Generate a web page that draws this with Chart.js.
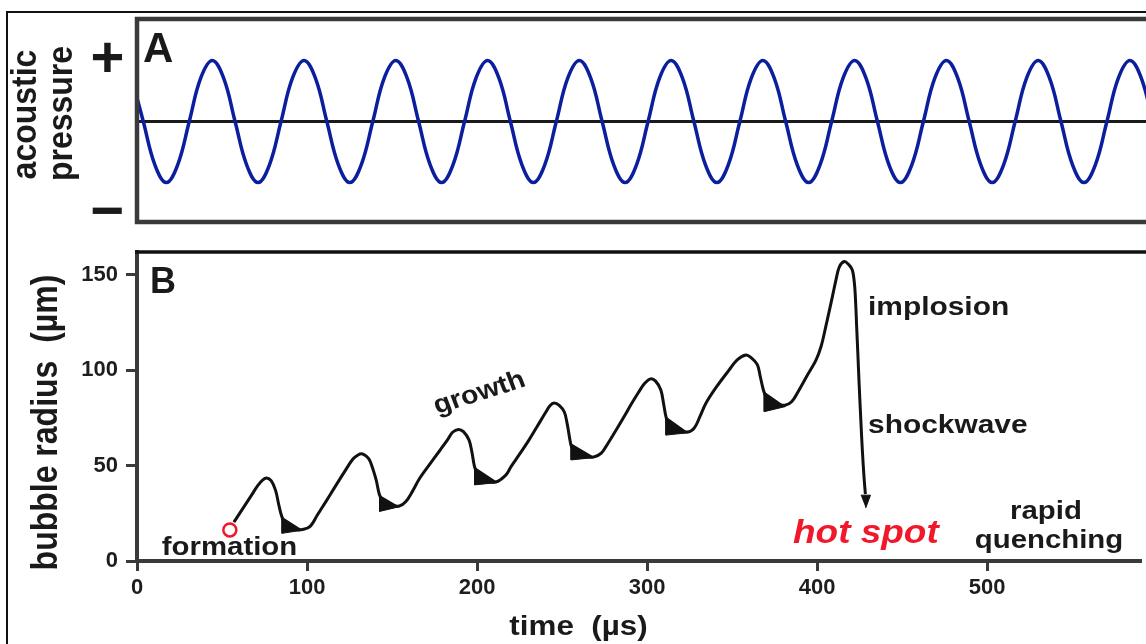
<!DOCTYPE html>
<html>
<head>
<meta charset="utf-8">
<script src="https://cdn.jsdelivr.net/npm/chart.js@4.4.0/dist/chart.umd.min.js"></script>
<style>
  html, body { margin: 0; padding: 0; background: #fff; overflow: hidden; }
  #wrap { position: relative; width: 1146px; height: 644px; overflow: hidden; }
  #outer { position: absolute; left: 6px; top: 11px; width: 1200px; height: 700px;
           border-left: 2px solid #111; border-top: 2px solid #111; }
  canvas { position: absolute; left: 0; top: 0; }
</style>
</head>
<body>
<div id="wrap">
  <div id="outer"></div>
  <canvas id="radiusChart" width="1150" height="644"></canvas>
  <canvas id="pressureChart" width="1150" height="644"></canvas>
</div>
<script>
// panel A: acoustic pressure (relative units)
const pressureTime = [
  -3.0, 3.7, 10.5,
  17.2, 23.9, 30.7, 37.4, 44.2, 50.9, 57.6, 64.4,
  71.1, 77.8, 84.6, 91.3, 98.1, 104.8, 111.5, 118.3,
  125.0, 131.7, 138.5, 145.2, 152.0, 158.7, 165.4, 172.2,
  178.9, 185.6, 192.4, 199.1, 205.9, 212.6, 219.3, 226.1,
  232.8, 239.5, 246.3, 253.0, 259.8, 266.5, 273.2, 280.0,
  286.7, 293.4, 300.2, 306.9, 313.7, 320.4, 327.1, 333.9,
  340.6, 347.3, 354.1, 360.8, 367.6, 374.3, 381.0, 387.8,
  394.5, 401.2, 408.0, 414.7, 421.5, 428.2, 434.9, 441.7,
  448.4, 455.1, 461.9, 468.6, 475.4, 482.1, 488.8, 495.6,
  502.3, 509.0, 515.8, 522.5, 529.3, 536.0, 542.7, 549.5,
  556.2, 562.9, 569.7, 576.4, 583.2, 589.9, 596.6, 603.4
];
const pressureValue = [
  0.71, 0, -0.71,
  -1, -0.71, 0, 0.71, 1, 0.71, 0, -0.71,
  -1, -0.71, 0, 0.71, 1, 0.71, 0, -0.71,
  -1, -0.71, 0, 0.71, 1, 0.71, 0, -0.71,
  -1, -0.71, 0, 0.71, 1, 0.71, 0, -0.71,
  -1, -0.71, 0, 0.71, 1, 0.71, 0, -0.71,
  -1, -0.71, 0, 0.71, 1, 0.71, 0, -0.71,
  -1, -0.71, 0, 0.71, 1, 0.71, 0, -0.71,
  -1, -0.71, 0, 0.71, 1, 0.71, 0, -0.71,
  -1, -0.71, 0, 0.71, 1, 0.71, 0, -0.71,
  -1, -0.71, 0, 0.71, 1, 0.71, 0, -0.71,
  -1, -0.71, 0, 0.71, 1, 0.71, 0, -0.71
];
const zeroTime = [0, 600];
const zeroValue = [0, 0];

// panel B: bubble radius (µm) against time (µs)
const radiusTime = [
  57, 62, 67, 71, 74, 76.2, 79, 81.5, 83.5, 85.3, 88, 93, 98, 102,
  106, 111, 116, 122, 127, 130, 132.2, 135, 137, 139, 140.8, 142.5, 144.5, 148, 154.3,
  158, 162, 166, 172, 178, 183, 185.6, 189, 192, 195.3, 197, 198.5, 200.5, 204, 211,
  216.9, 220, 225, 230.5, 235, 240.4, 243, 245.3, 248.5, 251.4, 253, 254.3, 255.5, 257.5, 261, 268.6,
  273, 275.6, 281, 286, 291, 295, 298.5, 302, 305, 308.1, 309.8, 311.1, 313, 317, 324.8,
  328, 331, 334.6, 341, 348.3, 353, 358.1, 361, 364.9, 366.5, 367.9, 369, 371, 375, 381,
  385, 389.4, 394, 399.4, 402.5, 405.1, 407, 409, 411, 413, 415.9, 418.5, 420.7,
  422, 422.7, 423.3, 424, 424.7, 425.6, 426.6, 427.6, 428.4
];
const radiusValue = [
  20.4, 27.2, 34, 39.5, 42.5, 43.5, 42, 37, 29, 23, 18.5, 16.5, 16.6, 18.3,
  24, 31, 38.2, 46.7, 53.5, 55.6, 56.2, 54.8, 52.5, 47.5, 42, 35, 31.5, 29.5, 28.8,
  31, 36.5, 43, 50.5, 57.8, 64, 67.5, 69, 67.8, 63.4, 57, 49.5, 45, 42.3, 41.4,
  45, 49.5, 56, 63.4, 70, 78, 81.5, 82.8, 81.5, 78, 72, 65.2, 60, 57, 55.3, 54.5,
  56.5, 59.7, 67.5, 75, 82.7, 88.5, 93, 95.5, 94.3, 89.7, 82, 75.7, 71, 68.3, 67.8,
  70, 75.5, 82.7, 91.5, 100.2, 105.5, 108, 106.7, 102.8, 97, 91.4, 88, 84.5, 82.3, 81.7,
  83.5, 89.7, 97, 105.4, 113, 122.9, 130.5, 138.6, 147, 154, 157, 155.5, 152.6,
  145, 135, 122, 108, 93.2, 76, 58.2, 44, 35
];

// ringing after each collapse (dark wedges)
const ringTime = [
  [85.3, 85.3, 97.5],
  [142.7, 142.7, 154.5],
  [198.5, 198.5, 212.5],
  [255.3, 255.3, 269.5],
  [311.1, 311.1, 324.5],
  [368.9, 368.9, 381.5]
];
const ringRadius = [
  [23.2, 14.5, 16.2],
  [34.6, 26.0, 28.5],
  [49.4, 39.9, 41.2],
  [61.7, 53.0, 54.3],
  [75.7, 66.0, 67.3],
  [88.8, 78.3, 81.0]
];

const arrowTime = [425.7, 431.4, 428.6];
const arrowRadius = [34.5, 34.5, 27.8];
const formationTime = [54.6];
const formationRadius = [16.3];

const xTickValues = [0, 100, 200, 300, 400, 500];
const yTickValues = [0, 50, 100, 150];

const INK = '#1a1a1a';
const AXIS = '#3a3a3a';
const BLUE = '#0b1f9e';
const RED = '#f0182a';
const FONT = '"Liberation Sans", Arial, Helvetica, sans-serif';

Chart.defaults.font.family = FONT;

function points(xs, ys) {
  return xs.map((x, i) => ({ x: x, y: ys[i] }));
}

function drawLabel(ctx, text, x, y, o) {
  ctx.save();
  ctx.translate(x, y);
  ctx.scale(o.sx || 1, 1);
  if (o.angle) ctx.rotate(o.angle);
  ctx.font = o.font;
  ctx.fillStyle = o.color || INK;
  ctx.textAlign = o.align || 'left';
  ctx.textBaseline = 'alphabetic';
  ctx.fillText(text, 0, 0);
  ctx.restore();
}

const panelA = {
  id: 'panelA',
  afterDraw(chart) {
    const ctx = chart.ctx;
    const a = chart.chartArea;
    ctx.save();
    ctx.strokeStyle = AXIS;
    ctx.lineWidth = 4.5;
    ctx.strokeRect(a.left, a.top, a.right - a.left + 10, a.bottom - a.top);
    ctx.restore();

    drawLabel(ctx, 'A', 143, 62, { font: 'bold 42px ' + FONT });
    drawLabel(ctx, '+', 107.5, 76.5, { font: 'bold 58px ' + FONT, align: 'center' });
    drawLabel(ctx, '\u2212', 107.5, 229.5, { font: 'bold 58px ' + FONT, align: 'center' });
    drawLabel(ctx, 'acoustic', 36, 114.5, { font: 'bold 32px ' + FONT, align: 'center', angle: -Math.PI / 2, sx: 1.08 });
    drawLabel(ctx, 'pressure', 71.5, 113.5, { font: 'bold 32px ' + FONT, align: 'center', angle: -Math.PI / 2, sx: 1.08 });
  }
};

const panelB = {
  id: 'panelB',
  afterDraw(chart) {
    const ctx = chart.ctx;
    const a = chart.chartArea;
    ctx.save();
    ctx.strokeStyle = '#111';
    ctx.lineWidth = 3.5;
    ctx.beginPath();
    ctx.moveTo(a.left - 2, a.top);
    ctx.lineTo(a.right + 10, a.top);
    ctx.stroke();
    ctx.restore();

    drawLabel(ctx, 'B', 150, 293, { font: 'bold 36px ' + FONT });
    drawLabel(ctx, 'bubble radius  (\u00b5m)', 57, 422.5, { font: 'bold 32px ' + FONT, align: 'center', angle: -Math.PI / 2, sx: 1.15 });
    drawLabel(ctx, 'time  (\u00b5s)', 578.5, 635, { font: 'bold 28px ' + FONT, align: 'center', sx: 1.12 });
    drawLabel(ctx, 'formation', 229.5, 555, { font: 'bold 26px ' + FONT, align: 'center', sx: 1.13 });
    drawLabel(ctx, 'growth', 482, 400, { font: 'bold 26px ' + FONT, align: 'center', angle: -19 * Math.PI / 180, sx: 1.1 });
    drawLabel(ctx, 'implosion', 868, 315, { font: 'bold 26px ' + FONT, sx: 1.15 });
    drawLabel(ctx, 'shockwave', 868, 433, { font: 'bold 26px ' + FONT, sx: 1.15 });
    drawLabel(ctx, 'hot spot', 793, 543, { font: 'italic bold 33px ' + FONT, sx: 1.12, color: RED });
    drawLabel(ctx, 'rapid', 1046, 519, { font: 'bold 26px ' + FONT, align: 'center', sx: 1.13 });
    drawLabel(ctx, 'quenching', 1049, 548, { font: 'bold 26px ' + FONT, align: 'center', sx: 1.13 });
  }
};

new Chart(document.getElementById('pressureChart'), {
  type: 'line',
  data: {
    datasets: [
      { data: points(pressureTime, pressureValue), borderColor: BLUE, borderWidth: 3.5, tension: 0.4, pointRadius: 0 },
      { data: points(zeroTime, zeroValue), borderColor: INK, borderWidth: 3, pointRadius: 0 }
    ]
  },
  options: {
    responsive: false,
    animation: false,
    devicePixelRatio: 1,
    layout: { padding: { left: 137, top: 19, right: 0, bottom: 422 } },
    plugins: { legend: { display: false }, tooltip: { enabled: false } },
    scales: {
      x: { type: 'linear', display: false, min: 0, max: 595 },
      y: { display: false, min: -1.648, max: 1.68 }
    }
  },
  plugins: [panelA]
});

const ringSets = ringTime.map((ts, i) => ({
  data: points(ts, ringRadius[i]),
  borderColor: '#111',
  backgroundColor: '#111',
  borderWidth: 1,
  fill: 'shape',
  pointRadius: 0,
  tension: 0
}));

const tickFont = { size: 22, weight: 'bold' };

new Chart(document.getElementById('radiusChart'), {
  type: 'line',
  data: {
    datasets: [
      { data: points(formationTime, formationRadius), showLine: false, pointRadius: 6.5,
        pointBorderWidth: 2.5, pointBorderColor: RED, pointBackgroundColor: '#fff' },
      { data: points(arrowTime, arrowRadius), borderColor: '#111', backgroundColor: '#111',
        borderWidth: 1, fill: 'shape', pointRadius: 0, tension: 0 },
      { data: points(radiusTime, radiusValue), borderColor: '#111', borderWidth: 3,
        tension: 0.35, pointRadius: 0, fill: false }
    ].concat(ringSets)
  },
  options: {
    responsive: false,
    animation: false,
    devicePixelRatio: 1,
    layout: { padding: { left: 0, top: 252, right: 0, bottom: 0 } },
    plugins: { legend: { display: false }, tooltip: { enabled: false } },
    scales: {
      x: {
        type: 'linear', min: 0, max: 590.5,
        afterBuildTicks: (s) => { s.ticks = xTickValues.map(v => ({ value: v })); },
        afterFit: (s) => { s.height = 83; s.paddingRight = 0; },
        border: { color: AXIS, width: 4 },
        grid: { drawOnChartArea: false, tickLength: 10, tickWidth: 3, tickColor: AXIS },
        ticks: { padding: 4, maxRotation: 0, autoSkip: false, color: '#1e1e1e', font: tickFont }
      },
      y: {
        min: 0, max: 162,
        afterBuildTicks: (s) => { s.ticks = yTickValues.map(v => ({ value: v })); },
        afterFit: (s) => { s.width = 137; },
        border: { color: AXIS, width: 4 },
        grid: { drawOnChartArea: false, tickLength: 11, tickWidth: 3, tickColor: AXIS },
        ticks: { padding: 8, autoSkip: false, color: '#1e1e1e', font: tickFont }
      }
    }
  },
  plugins: [panelB]
});
</script>
</body>
</html>
